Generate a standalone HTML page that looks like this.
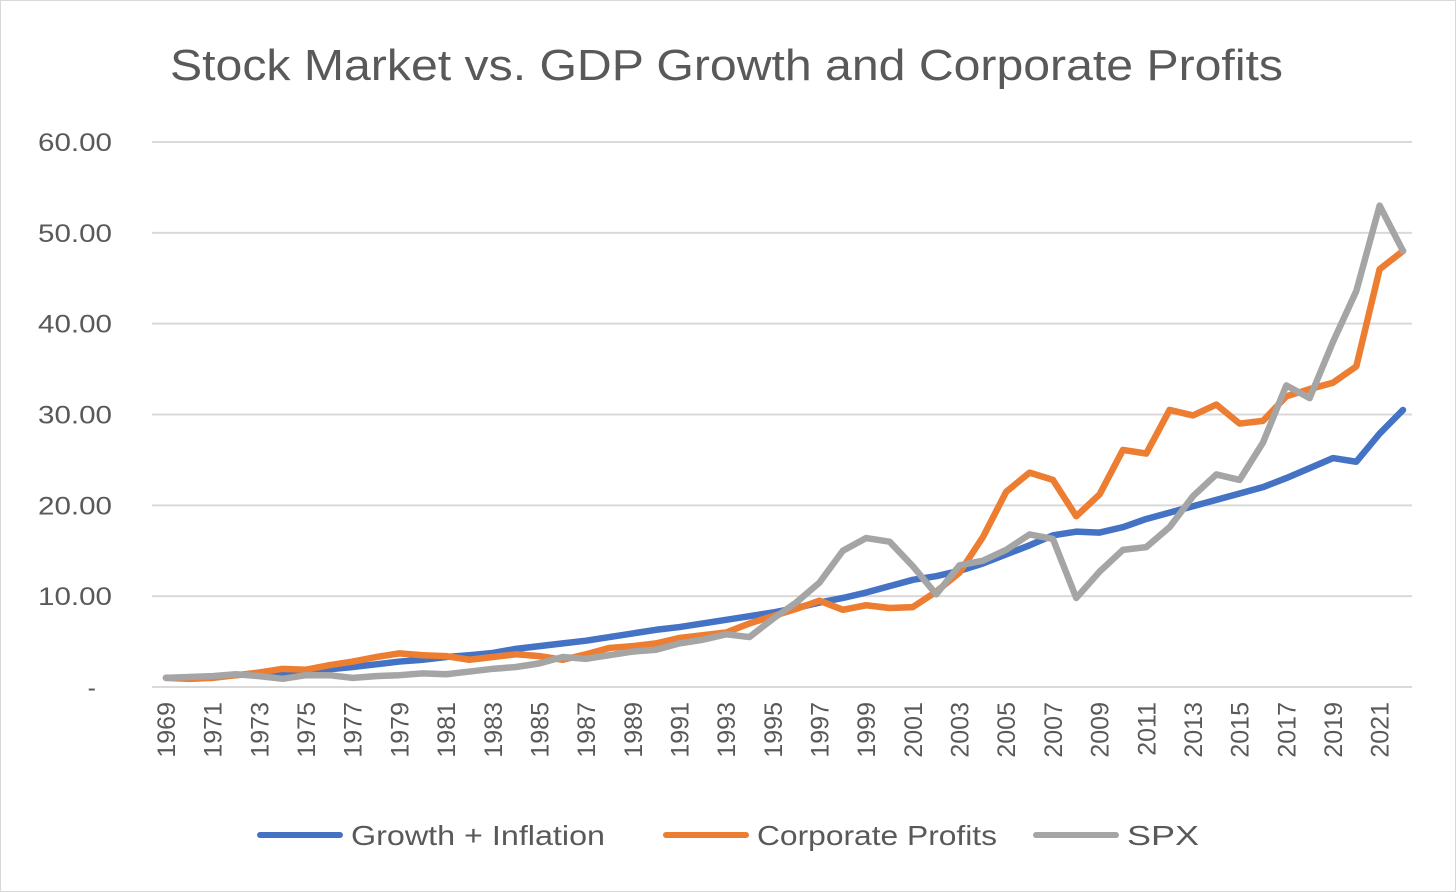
<!DOCTYPE html>
<html><head><meta charset="utf-8"><style>
html,body{margin:0;padding:0;background:#fff;}
svg{display:block;font-family:"Liberation Sans",sans-serif;}
</style></head><body>
<svg id="chart" width="1456" height="892">
<rect x="0.5" y="0.5" width="1455" height="891" fill="#fff" stroke="#d9d9d9"/>
<text x="170" y="80" font-size="44" fill="#595959" textLength="1113" lengthAdjust="spacingAndGlyphs">Stock Market vs. GDP Growth and Corporate Profits</text>
<g id="grid"></g><g id="series"></g><g id="xlabels"></g>
<g>
<g><line x1="260" y1="835" x2="340" y2="835" stroke="#4472c4" stroke-width="6" stroke-linecap="round"/><text x="351" y="845" font-size="28" fill="#595959" textLength="254" lengthAdjust="spacingAndGlyphs">Growth + Inflation</text></g>
<g><line x1="666" y1="835" x2="746" y2="835" stroke="#ed7d31" stroke-width="6" stroke-linecap="round"/><text x="757" y="845" font-size="28" fill="#595959" textLength="240" lengthAdjust="spacingAndGlyphs">Corporate Profits</text></g>
<g><line x1="1036" y1="835" x2="1116" y2="835" stroke="#a5a5a5" stroke-width="6" stroke-linecap="round"/><text x="1127" y="845" font-size="28" fill="#595959" textLength="72" lengthAdjust="spacingAndGlyphs">SPX</text></g>
</g>
</svg>
<script>
const years=[];for(let y=1969;y<=2022;y++)years.push(y);
const growth=[1.0,1.05,1.15,1.3,1.5,1.6,1.75,1.95,2.2,2.5,2.8,3.0,3.3,3.5,3.75,4.2,4.5,4.8,5.1,5.5,5.9,6.3,6.6,7.0,7.4,7.8,8.2,8.7,9.3,9.8,10.4,11.1,11.8,12.2,12.8,13.6,14.6,15.6,16.7,17.1,17.0,17.6,18.5,19.2,19.9,20.6,21.3,22.0,23.0,24.1,25.2,24.8,27.9,30.5];
const profits=[1.0,0.9,1.0,1.3,1.6,2.0,1.9,2.4,2.8,3.3,3.7,3.5,3.4,3.0,3.3,3.6,3.4,3.0,3.6,4.3,4.5,4.8,5.4,5.7,6.0,7.0,7.8,8.6,9.5,8.5,9.0,8.7,8.8,10.5,12.6,16.5,21.5,23.6,22.8,18.8,21.2,26.1,25.7,30.5,29.9,31.1,29.0,29.3,32.0,32.8,33.5,35.3,46.0,48.0];
const spx=[1.0,1.1,1.2,1.4,1.2,0.9,1.3,1.3,1.0,1.2,1.3,1.5,1.4,1.7,2.0,2.2,2.6,3.3,3.1,3.5,3.9,4.1,4.8,5.2,5.8,5.5,7.5,9.3,11.5,15.0,16.4,16.0,13.3,10.2,13.4,13.9,15.1,16.8,16.3,9.8,12.7,15.1,15.4,17.6,21.0,23.4,22.8,26.9,33.2,31.8,38.0,43.6,53.0,48.0];
const yTicks=[0,10,20,30,40,50,60];
const yTickLabels=["-","10.00","20.00","30.00","40.00","50.00","60.00"];
const NS="http://www.w3.org/2000/svg";
const x0=166,x1=1403,y0=687,y60=142;
const xs=i=>x0+(x1-x0)*i/(years.length-1);
const ys=v=>y0+(y60-y0)*v/60;
function mk(tag,attrs,parent){const e=document.createElementNS(NS,tag);for(const k in attrs)e.setAttribute(k,attrs[k]);parent.appendChild(e);return e;}
const grid=document.getElementById('grid');
yTicks.forEach((t,i)=>{
  const l=mk('line',{x1:152,x2:1412,y1:ys(t),y2:ys(t),stroke:'#d9d9d9','stroke-width':2},grid);
  
  
  const attrs={x:i==0?96:112,y:ys(t)+9,'text-anchor':'end','font-size':25,fill:'#595959'};
  if(i>0){attrs.textLength=74;attrs.lengthAdjust='spacingAndGlyphs';}
  const tx=mk('text',attrs,grid);
  tx.textContent=yTickLabels[i];
  
  
});
const xl=document.getElementById('xlabels');
years.forEach((y,i)=>{
  if(i%2)return;
  const t=mk('text',{x:0,y:0,transform:`translate(${xs(i)+9},702) rotate(-90)`,'text-anchor':'end','font-size':25,fill:'#595959'},xl);
  t.textContent=y;
  
  
});
const sg=document.getElementById('series');
[[growth,'#4472c4','series-growth-inflation'],[profits,'#ed7d31','series-corporate-profits'],[spx,'#a5a5a5','series-spx']].forEach(([d,c,n])=>{
  const p=mk('polyline',{points:d.map((v,i)=>xs(i)+','+ys(v)).join(' '),fill:'none',stroke:c,'stroke-width':6.5,'stroke-linejoin':'round','stroke-linecap':'round'},sg);
  
  
});
</script>
</body></html>
